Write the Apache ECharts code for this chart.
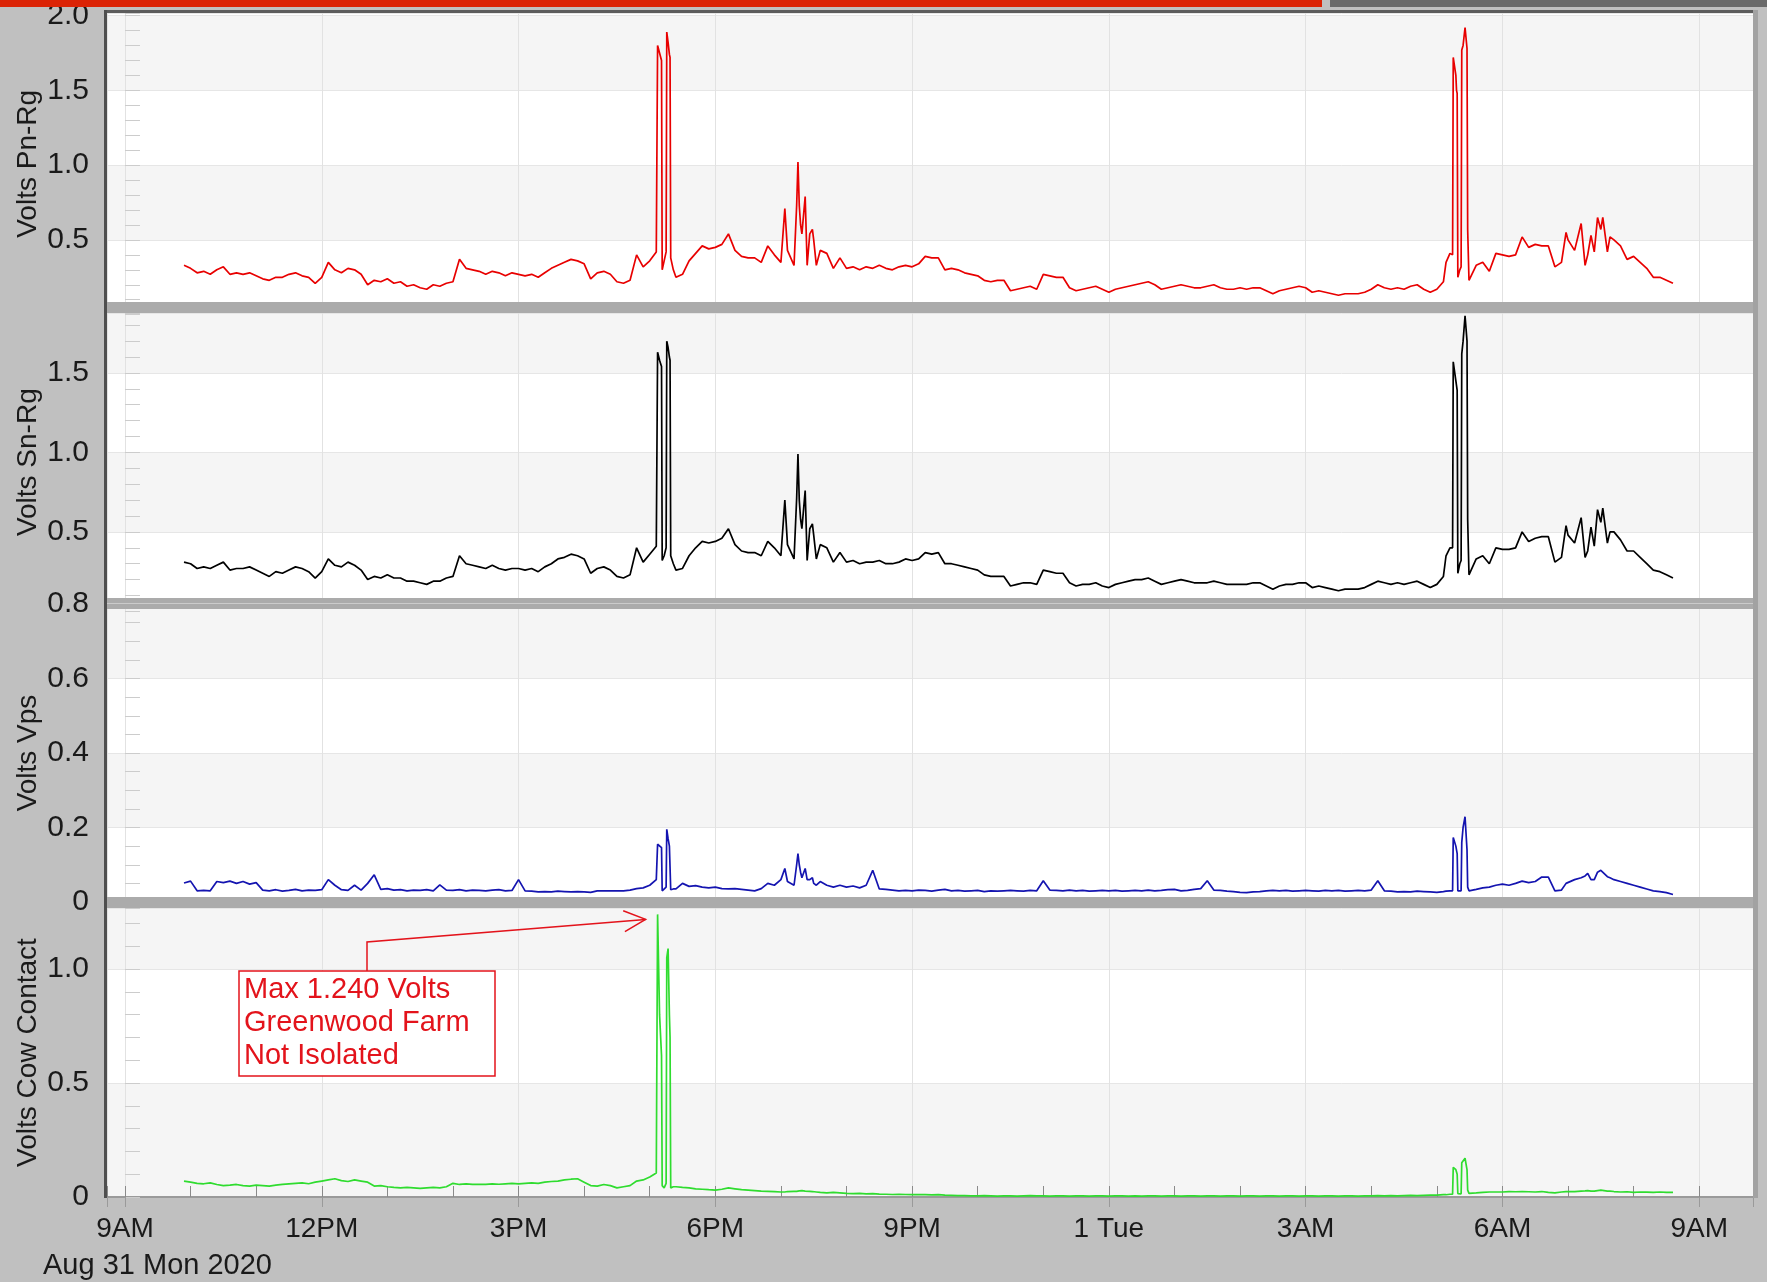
<!DOCTYPE html>
<html>
<head>
<meta charset="utf-8">
<title>Greenwood Farm stray voltage</title>
<script src="https://cdn.jsdelivr.net/npm/echarts@6/dist/echarts.min.js"></script>
<style>
  html, body { margin: 0; padding: 0; background: #c0c0c0; }
  #main { width: 1767px; height: 1282px; }
</style>
</head>
<body>
<div id="main"></div>
<script>
// time is in hours after 9AM Mon Aug 31 2020, logger samples every 0.1 h from 0.9 h
var baseStart = 0.9;
var baseStep = 0.1;
var xTickLabels = ['9AM', '12PM', '3PM', '6PM', '9PM', '1 Tue', '3AM', '6AM', '9AM'];

// extra readings around the fast events (5PM spikes, 7PM burst, 5AM spikes, 7AM)
var extraHours = [
    8.12, 8.15, 8.18, 8.19, 8.22, 8.25, 8.26, 8.28, 8.31, 8.32, 8.36,
    10.06, 10.24, 10.26, 10.28, 10.32, 10.37, 10.44, 10.48, 10.54,
    20.14, 20.24, 20.25, 20.29, 20.31, 20.32, 20.35, 20.37, 20.38, 20.43, 20.46, 20.47, 20.49,
    21.97, 22.26, 22.35, 22.45, 22.53, 22.64
];

var pnRg = [
    0.33,
    0.31, 0.28, 0.29, 0.27, 0.30, 0.32, 0.27, 0.28, 0.27, 0.28,
    0.26, 0.24, 0.23, 0.25, 0.25, 0.27, 0.28, 0.26, 0.25, 0.21,
    0.25, 0.35, 0.30, 0.28, 0.31, 0.30, 0.27, 0.20, 0.23, 0.22,
    0.24, 0.21, 0.22, 0.19, 0.20, 0.18, 0.17, 0.20, 0.19, 0.21,
    0.22, 0.37, 0.31, 0.30, 0.29, 0.27, 0.29, 0.28, 0.26, 0.28,
    0.27, 0.26, 0.27, 0.25, 0.28, 0.31, 0.33, 0.35, 0.37, 0.36,
    0.34, 0.24, 0.28, 0.29, 0.27, 0.22, 0.21, 0.23, 0.40, 0.32,
    0.36, 0.42, 0.32, 1.74, 0.25, 0.27, 0.36, 0.41, 0.46, 0.44,
    0.45, 0.47, 0.54, 0.43, 0.39, 0.38, 0.38, 0.35, 0.46, 0.40,
    0.35, 0.43, 0.33, 0.60, 0.33, 0.50, 0.43, 0.41, 0.31, 0.38,
    0.31, 0.32, 0.30, 0.32, 0.31, 0.33, 0.31, 0.30, 0.32, 0.33,
    0.32, 0.34, 0.39, 0.38, 0.38, 0.30, 0.31, 0.30, 0.28, 0.27,
    0.26, 0.23, 0.22, 0.23, 0.23, 0.16, 0.17, 0.18, 0.19, 0.17,
    0.27, 0.26, 0.25, 0.25, 0.18, 0.16, 0.17, 0.18, 0.19, 0.17,
    0.15, 0.17, 0.18, 0.19, 0.20, 0.21, 0.22, 0.20, 0.17, 0.18,
    0.19, 0.20, 0.19, 0.18, 0.18, 0.19, 0.20, 0.18, 0.17, 0.17,
    0.18, 0.17, 0.18, 0.18, 0.16, 0.14, 0.16, 0.17, 0.18, 0.19,
    0.18, 0.15, 0.16, 0.15, 0.14, 0.13, 0.14, 0.14, 0.14, 0.15,
    0.17, 0.20, 0.18, 0.17, 0.18, 0.17, 0.19, 0.20, 0.17, 0.15,
    0.17, 0.22, 0.41, 1.50, 1.80, 0.24, 0.33, 0.35, 0.29, 0.41,
    0.40, 0.39, 0.40, 0.52, 0.45, 0.47, 0.46, 0.46, 0.32, 0.35,
    0.50, 0.43, 0.61, 0.40, 0.42, 0.57, 0.42, 0.50, 0.46, 0.37,
    0.39, 0.35, 0.31, 0.25, 0.25, 0.23, 0.21
];
var pnRgExtra = [
    1.80, 1.75, 1.70, 0.30, 0.36, 0.42, 1.89, 1.82, 1.72, 0.38, 0.30,
    0.71, 0.73, 1.02, 0.73, 0.54, 0.79, 0.54, 0.57, 0.33,
    0.35, 0.40, 1.72, 1.60, 1.48, 0.25, 0.30, 0.32, 1.77, 1.92, 1.78, 0.57, 0.23,
    0.55, 0.33, 0.53, 0.65, 0.65, 0.52
];

var snRg = [
    0.31,
    0.30, 0.27, 0.28, 0.27, 0.29, 0.31, 0.26, 0.27, 0.27, 0.28,
    0.26, 0.24, 0.22, 0.25, 0.24, 0.26, 0.28, 0.27, 0.25, 0.21,
    0.25, 0.33, 0.29, 0.28, 0.31, 0.29, 0.26, 0.20, 0.22, 0.21,
    0.23, 0.21, 0.21, 0.19, 0.19, 0.18, 0.17, 0.19, 0.19, 0.21,
    0.22, 0.35, 0.30, 0.29, 0.28, 0.27, 0.29, 0.27, 0.26, 0.27,
    0.27, 0.26, 0.27, 0.25, 0.28, 0.30, 0.33, 0.34, 0.36, 0.35,
    0.33, 0.24, 0.27, 0.28, 0.26, 0.22, 0.21, 0.23, 0.40, 0.31,
    0.36, 0.41, 0.32, 1.60, 0.26, 0.27, 0.35, 0.40, 0.44, 0.43,
    0.44, 0.46, 0.52, 0.42, 0.38, 0.37, 0.37, 0.35, 0.44, 0.40,
    0.35, 0.42, 0.33, 0.58, 0.32, 0.48, 0.42, 0.40, 0.31, 0.37,
    0.31, 0.32, 0.30, 0.31, 0.31, 0.32, 0.30, 0.30, 0.31, 0.33,
    0.32, 0.33, 0.37, 0.36, 0.37, 0.30, 0.30, 0.29, 0.28, 0.27,
    0.26, 0.23, 0.22, 0.22, 0.22, 0.16, 0.17, 0.18, 0.18, 0.17,
    0.26, 0.25, 0.24, 0.24, 0.18, 0.16, 0.17, 0.17, 0.18, 0.16,
    0.15, 0.17, 0.18, 0.19, 0.20, 0.20, 0.21, 0.19, 0.17, 0.18,
    0.19, 0.20, 0.19, 0.18, 0.18, 0.18, 0.19, 0.18, 0.17, 0.17,
    0.17, 0.17, 0.18, 0.18, 0.16, 0.14, 0.16, 0.17, 0.17, 0.18,
    0.18, 0.15, 0.16, 0.15, 0.14, 0.13, 0.14, 0.14, 0.14, 0.15,
    0.17, 0.19, 0.18, 0.17, 0.18, 0.17, 0.18, 0.19, 0.17, 0.15,
    0.17, 0.22, 0.40, 1.42, 1.70, 0.24, 0.33, 0.35, 0.30, 0.40,
    0.39, 0.39, 0.40, 0.50, 0.44, 0.46, 0.47, 0.47, 0.31, 0.34,
    0.48, 0.43, 0.59, 0.38, 0.41, 0.56, 0.43, 0.50, 0.45, 0.38,
    0.38, 0.34, 0.30, 0.26, 0.25, 0.23, 0.21
];
var snRgExtra = [
    1.63, 1.58, 1.54, 0.32, 0.35, 0.40, 1.70, 1.66, 1.58, 0.35, 0.30,
    0.70, 0.71, 0.99, 0.70, 0.52, 0.76, 0.52, 0.55, 0.33,
    0.35, 0.40, 1.57, 1.45, 1.39, 0.24, 0.30, 0.32, 1.62, 1.86, 1.70, 0.58, 0.23,
    0.54, 0.34, 0.53, 0.64, 0.65, 0.50
];

var vps = [
    0.051,
    0.056, 0.030, 0.031, 0.030, 0.055, 0.052, 0.056, 0.050, 0.055, 0.048,
    0.052, 0.032, 0.030, 0.033, 0.029, 0.031, 0.034, 0.030, 0.032, 0.031,
    0.033, 0.060, 0.045, 0.033, 0.031, 0.045, 0.032, 0.050, 0.073, 0.034,
    0.036, 0.032, 0.033, 0.030, 0.032, 0.031, 0.033, 0.030, 0.046, 0.032,
    0.031, 0.033, 0.030, 0.032, 0.031, 0.030, 0.032, 0.033, 0.030, 0.031,
    0.060, 0.030, 0.029, 0.027, 0.028, 0.027, 0.029, 0.028, 0.027, 0.028,
    0.027, 0.026, 0.030, 0.030, 0.030, 0.030, 0.030, 0.032, 0.036, 0.038,
    0.045, 0.060, 0.030, 0.150, 0.035, 0.050, 0.042, 0.044, 0.040, 0.038,
    0.040, 0.036, 0.035, 0.036, 0.034, 0.032, 0.030, 0.036, 0.050, 0.045,
    0.060, 0.055, 0.045, 0.080, 0.060, 0.050, 0.055, 0.045, 0.040, 0.045,
    0.040, 0.043, 0.038, 0.045, 0.085, 0.035, 0.034, 0.032, 0.030, 0.031,
    0.030, 0.032, 0.031, 0.029, 0.032, 0.034, 0.030, 0.031, 0.029, 0.030,
    0.031, 0.028, 0.030, 0.029, 0.030, 0.031, 0.030, 0.029, 0.031, 0.030,
    0.057, 0.032, 0.031, 0.030, 0.032, 0.030, 0.031, 0.029, 0.030, 0.031,
    0.030, 0.031, 0.029, 0.030, 0.031, 0.030, 0.032, 0.030, 0.031, 0.033,
    0.034, 0.030, 0.031, 0.034, 0.036, 0.057, 0.032, 0.031, 0.029, 0.028,
    0.026, 0.025, 0.027, 0.028, 0.030, 0.031, 0.030, 0.031, 0.029, 0.030,
    0.031, 0.030, 0.029, 0.031, 0.030, 0.031, 0.029, 0.030, 0.031, 0.030,
    0.032, 0.057, 0.030, 0.029, 0.027, 0.028, 0.027, 0.029, 0.028, 0.027,
    0.026, 0.028, 0.030, 0.140, 0.200, 0.032, 0.034, 0.038, 0.040, 0.045,
    0.048, 0.045, 0.050, 0.056, 0.052, 0.055, 0.067, 0.067, 0.030, 0.032,
    0.055, 0.060, 0.065, 0.077, 0.060, 0.085, 0.068, 0.060, 0.055, 0.050,
    0.045, 0.040, 0.035, 0.030, 0.028, 0.025, 0.020
];
var vpsExtra = [
    0.155, 0.150, 0.146, 0.030, 0.035, 0.040, 0.195, 0.170, 0.150, 0.033, 0.035,
    0.090, 0.100, 0.130, 0.100, 0.065, 0.090, 0.060, 0.065, 0.045,
    0.029, 0.030, 0.173, 0.150, 0.130, 0.030, 0.030, 0.030, 0.160, 0.229, 0.140, 0.040, 0.030,
    0.050, 0.070, 0.060, 0.080, 0.090, 0.065
];

var cowContact = [
    0.070,
    0.065, 0.060, 0.058, 0.062, 0.055, 0.050, 0.052, 0.055, 0.050, 0.048,
    0.052, 0.050, 0.048, 0.052, 0.055, 0.058, 0.060, 0.062, 0.058, 0.065,
    0.070, 0.075, 0.080, 0.072, 0.068, 0.075, 0.070, 0.065, 0.048, 0.050,
    0.045, 0.042, 0.040, 0.042, 0.040, 0.038, 0.040, 0.042, 0.040, 0.045,
    0.060, 0.055, 0.058, 0.055, 0.056, 0.055, 0.058, 0.056, 0.058, 0.060,
    0.058, 0.060, 0.062, 0.060, 0.065, 0.068, 0.070, 0.075, 0.078, 0.080,
    0.065, 0.050, 0.048, 0.055, 0.050, 0.040, 0.045, 0.050, 0.070, 0.075,
    0.088, 0.105, 0.045, 0.800, 0.045, 0.042, 0.040, 0.036, 0.034, 0.032,
    0.030, 0.034, 0.040, 0.036, 0.032, 0.030, 0.028, 0.026, 0.025, 0.024,
    0.022, 0.024, 0.025, 0.028, 0.025, 0.022, 0.020, 0.018, 0.020, 0.018,
    0.016, 0.015, 0.016, 0.014, 0.015, 0.013, 0.012, 0.011, 0.012, 0.011,
    0.010, 0.011, 0.010, 0.009, 0.010, 0.008, 0.007, 0.006, 0.006, 0.005,
    0.005, 0.006, 0.005, 0.004, 0.005, 0.005, 0.004, 0.005, 0.006, 0.005,
    0.005, 0.004, 0.005, 0.005, 0.004, 0.005, 0.005, 0.004, 0.005, 0.005,
    0.004, 0.005, 0.005, 0.004, 0.005, 0.004, 0.005, 0.005, 0.004, 0.005,
    0.005, 0.004, 0.005, 0.005, 0.004, 0.005, 0.005, 0.004, 0.005, 0.005,
    0.004, 0.005, 0.005, 0.004, 0.005, 0.005, 0.004, 0.005, 0.005, 0.004,
    0.005, 0.005, 0.004, 0.005, 0.005, 0.004, 0.005, 0.005, 0.004, 0.005,
    0.005, 0.006, 0.005, 0.006, 0.005, 0.006, 0.007, 0.006, 0.007, 0.008,
    0.008, 0.010, 0.012, 0.110, 0.150, 0.016, 0.018, 0.020, 0.022, 0.022,
    0.022, 0.024, 0.023, 0.024, 0.023, 0.022, 0.024, 0.020, 0.018, 0.022,
    0.025, 0.024, 0.026, 0.028, 0.026, 0.030, 0.026, 0.024, 0.022, 0.023,
    0.020, 0.022, 0.021, 0.020, 0.022, 0.020, 0.020
];
var cowContactExtra = [
    1.24, 0.80, 0.62, 0.05, 0.04, 0.06, 1.05, 1.09, 0.70, 0.04, 0.045,
    0.022, 0.025, 0.026, 0.027, 0.028, 0.026, 0.025, 0.024, 0.022,
    0.010, 0.012, 0.130, 0.120, 0.100, 0.015, 0.012, 0.014, 0.150, 0.170, 0.120, 0.030, 0.016,
    0.024, 0.027, 0.026, 0.028, 0.030, 0.026
];

var FONT = '"Liberation Sans", Arial, sans-serif';
var TEXT = '#1a1a1a';

function buildPoints(base, extra) {
    var pts = base.map(function (v, i) {
        return [Math.round((baseStart + i * baseStep) * 100) / 100, v];
    });
    extraHours.forEach(function (h, i) {
        pts.push([h, extra[i]]);
    });
    pts.sort(function (a, b) { return a[0] - b[0]; });
    return pts;
}

var panels = [
    {top: 13, height: 301.7, max: 2.017, step: 0.5, minor: 5, name: 'Volts Pn-Rg', zero: false, area: ['#ffffff', '#f5f5f5'], data: buildPoints(pnRg, pnRgExtra), color: '#e80000'},
    {top: 313, height: 298.4, max: 1.877, step: 0.5, minor: 5, name: 'Volts Sn-Rg', zero: false, area: ['#ffffff', '#f5f5f5'], data: buildPoints(snRg, snRgExtra), color: '#000000'},
    {top: 604, height: 298, max: 0.8, step: 0.2, minor: 4, name: 'Volts Vps', zero: true, area: ['#ffffff', '#f5f5f5'], data: buildPoints(vps, vpsExtra), color: '#1414b0'},
    {top: 908, height: 289, max: 1.268, step: 0.5, minor: 5, name: 'Volts Cow Contact', zero: true, area: ['#f5f5f5', '#ffffff'], data: buildPoints(cowContact, cowContactExtra), color: '#2fdc2f'}
];

var X_MIN = -0.274, X_MAX = 24.82;

var grids = panels.map(function (p) {
    return {left: 107, right: 14, top: p.top, height: p.height, containLabel: false, outerBoundsMode: 'none'};
});

var xAxes = panels.map(function (p, i) {
    var last = i === panels.length - 1;
    return {
        type: 'value', gridIndex: i, min: X_MIN, max: X_MAX, minInterval: 3, maxInterval: 3,
        axisLine: {show: last, lineStyle: {color: '#9a9a9a', width: 2}},
        axisTick: {show: last, inside: false, length: 10, lineStyle: {color: '#9a9a9a'}},
        axisLabel: {
            show: last, margin: 18, fontSize: 28, color: TEXT, fontFamily: FONT,
            formatter: function (v) {
                var k = v / 3;
                if (Math.abs(k - Math.round(k)) > 1e-6) return '';
                return xTickLabels[Math.round(k)] || '';
            }
        },
        splitLine: {show: true, lineStyle: {color: '#e2e2e2', width: 1}}
    };
});
// hourly marks along the bottom of the cow contact panel
xAxes.push({
    type: 'value', gridIndex: 3, min: X_MIN, max: X_MAX, minInterval: 1, maxInterval: 1, position: 'bottom',
    axisLine: {show: false},
    axisTick: {show: true, inside: true, length: 11, lineStyle: {color: '#8a8a8a'}},
    axisLabel: {show: false},
    splitLine: {show: false}
});

var yAxes = panels.map(function (p, i) {
    return {
        type: 'value', gridIndex: i, min: 0, max: p.max, minInterval: p.step, maxInterval: p.step,
        name: p.name, nameLocation: 'middle', nameGap: 65, nameMoveOverlap: false,
        nameTextStyle: {fontSize: 28, color: TEXT, fontFamily: FONT},
        axisLine: {show: false},
        axisTick: {show: true, inside: true, length: 15, lineStyle: {color: '#cccccc'}},
        minorTick: {show: true, splitNumber: p.minor, length: 15, lineStyle: {color: '#cccccc'}},
        axisLabel: {
            margin: 18, fontSize: 30, color: TEXT, fontFamily: FONT,
            formatter: function (v) {
                var k = v / p.step;
                if (Math.abs(k - Math.round(k)) > 1e-6) return '';
                if (Math.abs(v) < 1e-9) return p.zero ? '0' : '';
                return v.toFixed(1);
            }
        },
        splitLine: {show: true, lineStyle: {color: '#e6e6e6'}},
        splitArea: {show: true, areaStyle: {color: p.area}}
    };
});

var series = panels.map(function (p, i) {
    return {
        type: 'line', name: p.name, xAxisIndex: i, yAxisIndex: i,
        data: p.data, showSymbol: false, symbol: 'none', silent: true,
        lineStyle: {color: p.color, width: 1.7},
        emphasis: {disabled: true}
    };
});

var chart = echarts.init(document.getElementById('main'));
chart.setOption({
    backgroundColor: '#c0c0c0',
    animation: false,
    textStyle: {fontFamily: FONT},
    grid: grids,
    xAxis: xAxes,
    yAxis: yAxes,
    series: series
});

// callout arrow points at the biggest cow contact reading
var cowPts = panels[3].data;
var peak = cowPts.reduce(function (a, b) { return b[1] > a[1] ? b : a; });
var pk = chart.convertToPixel({gridIndex: 3}, peak);
var tip = [pk[0] - 12, pk[1] + 5];
var knee = [367, 942];
var ang = Math.atan2(tip[1] - knee[1], tip[0] - knee[0]);
function wing(da) {
    return [tip[0] - 24 * Math.cos(ang + da), tip[1] - 24 * Math.sin(ang + da)];
}
var RED = '#e3131b';

var bands = [302, 598, 897];
var elements = [
    {type: 'rect', shape: {x: 0, y: 0, width: 1322, height: 7}, style: {fill: '#db2305'}},
    {type: 'rect', shape: {x: 1330, y: 0, width: 437, height: 7}, style: {fill: '#6a6a6a'}},
    {type: 'rect', shape: {x: 104, y: 10, width: 1654, height: 3}, style: {fill: '#5c5c5c'}},
    {type: 'rect', shape: {x: 104, y: 10, width: 3, height: 1188}, style: {fill: '#4f4f4f'}},
    {type: 'rect', shape: {x: 1753, y: 10, width: 5, height: 1188}, style: {fill: '#a2a2a2'}}
];
bands.forEach(function (y) {
    elements.push({type: 'rect', shape: {x: 107, y: y, width: 1646, height: 11}, style: {fill: '#ababab'}});
});
elements.push({type: 'rect', shape: {x: 107, y: 603, width: 1646, height: 1}, style: {fill: '#cbcbcb'}});
elements.push(
    {type: 'rect', shape: {x: 239, y: 971, width: 256, height: 105}, style: {fill: '#ffffff', stroke: RED, lineWidth: 1.5}},
    {type: 'text', x: 244, y: 973, style: {text: 'Max 1.240 Volts\nGreenwood Farm\nNot Isolated', fill: RED, fontSize: 29, fontFamily: FONT, lineHeight: 33, verticalAlign: 'top'}},
    {type: 'polyline', shape: {points: [[367, 971], knee, tip]}, style: {stroke: RED, lineWidth: 1.5, fill: null}},
    {type: 'polyline', shape: {points: [wing(0.45), tip, wing(-0.45)]}, style: {stroke: RED, lineWidth: 1.5, fill: null}},
    {type: 'text', x: 43, y: 1251, style: {text: 'Aug 31 Mon 2020', fill: TEXT, fontSize: 29, fontFamily: FONT, verticalAlign: 'top'}}
);
elements.forEach(function (el) { el.z = 100; el.silent = true; });

chart.setOption({graphic: {elements: elements}});
</script>
</body>
</html>
